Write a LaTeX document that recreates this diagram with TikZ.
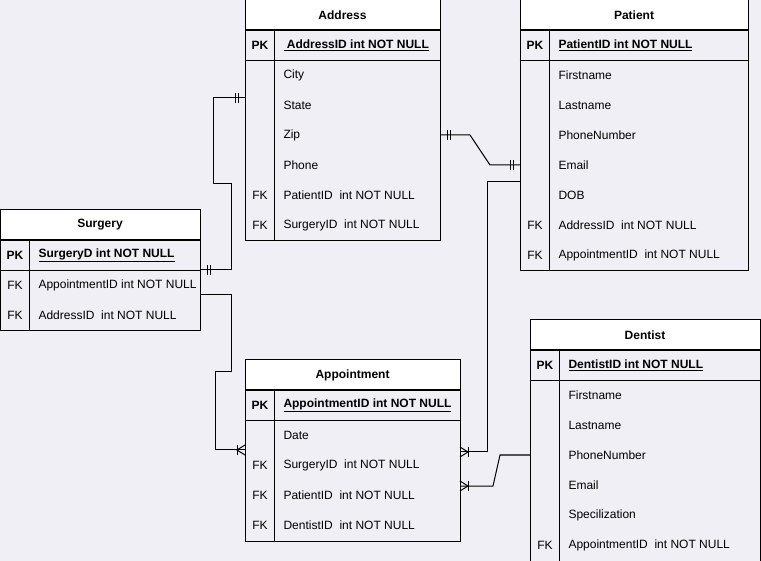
\documentclass[tikz,border=0pt]{standalone}
\usepackage{fontspec}
\setmainfont{Liberation Sans}
\usepackage{tikz}
\usetikzlibrary{positioning}

\definecolor{erbg}{RGB}{240,239,245}

\tikzset{
	tabhead/.style={draw, fill=white, minimum height=30pt, inner sep=0pt, font=\fontsize{12}{14}\selectfont\bfseries},
	tabbody/.style={draw, fill=erbg, inner sep=0pt, anchor=north},
	keylbl/.style={draw=none, fill=none, inner sep=0pt, font=\fontsize{12}{14}\selectfont},
	pklbl/.style={keylbl, font=\fontsize{12}{14}\selectfont\bfseries},
	field/.style={draw=none, fill=none, inner sep=0pt, anchor=west, font=\fontsize{12}{14}\selectfont},
	keyfield/.style={field, font=\fontsize{12}{14}\selectfont\bfseries},
	onebar/.pic={\draw (7,-5) -- (7,5); \draw (10,-5) -- (10,5);},
	many/.pic={\draw (0,-5) -- (8,0) -- (0,5); \draw (8,-5) -- (8,5);},
}

\begin{document}
\begin{tikzpicture}[x=1pt, y=-1pt, line width=1pt]

	\useasboundingbox (0,0) rectangle (761,561);
	\fill[erbg] (0,0) rectangle (761,561);

	% Address
	\node[tabhead, minimum width=195pt] (address) at (342.5, 15) {Address};
	\node[tabbody, minimum width=195pt, minimum height=210pt, below=0pt of address] (addressbody) {};
	\draw ([yshift=-30pt]addressbody.north west) -- ([yshift=-30pt]addressbody.north east);
	\draw ([xshift=30pt]addressbody.north west) -- ([xshift=30pt]addressbody.south west);
	\node[pklbl] (addresspk) at (260, 45) {PK};
	\node[keyfield] (addressid) at (283, 45) {\underline{\ AddressID int NOT NULL}};
	\node[field] (addresscity) at (283, 75) {City};
	\node[field] (addressstate) at (283, 105) {State};
	\node[field] (addresszip) at (283, 135) {Zip};
	\node[field] (addressphone) at (283, 165) {Phone};
	\node[keylbl] (addressfk1) at (260, 195) {FK};
	\node[field] (addresspat) at (283, 195) {PatientID\ \ int NOT NULL};
	\node[keylbl] (addressfk2) at (260, 225) {FK};
	\node[field] (addresssurg) at (283, 225) {SurgeryID\ \ int NOT NULL};

	% Patient
	\node[tabhead, minimum width=228pt] (patient) at (634, 15) {Patient};
	\node[tabbody, minimum width=228pt, minimum height=240pt, below=0pt of patient] (patientbody) {};
	\draw ([yshift=-30pt]patientbody.north west) -- ([yshift=-30pt]patientbody.north east);
	\draw ([xshift=30pt]patientbody.north west) -- ([xshift=30pt]patientbody.south west);
	\node[pklbl] (patientpk) at (535, 45) {PK};
	\node[keyfield] (patientid) at (558, 45) {\underline{PatientID int NOT NULL}};
	\node[field] (patientfirst) at (558, 75) {Firstname};
	\node[field] (patientlast) at (558, 105) {Lastname};
	\node[field] (patientphone) at (558, 135) {PhoneNumber};
	\node[field] (patientemail) at (558, 165) {Email};
	\node[field] (patientdob) at (558, 195) {DOB};
	\node[keylbl] (patientfk1) at (535, 225) {FK};
	\node[field] (patientaddr) at (558, 225) {AddressID\ \ int NOT NULL};
	\node[keylbl] (patientfk2) at (535, 255) {FK};
	\node[field] (patientappt) at (558, 255) {AppointmentID\ \ int NOT NULL};

	% Surgery
	\node[tabhead, minimum width=200pt] (surgery) at (100, 225) {Surgery};
	\node[tabbody, minimum width=200pt, minimum height=90pt, below=0pt of surgery] (surgerybody) {};
	\draw ([yshift=-30pt]surgerybody.north west) -- ([yshift=-30pt]surgerybody.north east);
	\draw ([xshift=30pt]surgerybody.north west) -- ([xshift=30pt]surgerybody.south west);
	\node[pklbl] (surgerypk) at (15, 255) {PK};
	\node[keyfield] (surgeryid) at (38, 255) {\underline{SurgeryD int NOT NULL}};
	\node[keylbl] (surgeryfk1) at (15, 285) {FK};
	\node[field] (surgeryappt) at (38, 285) {AppointmentID int NOT NULL};
	\node[keylbl] (surgeryfk2) at (15, 315) {FK};
	\node[field] (surgeryaddr) at (38, 315) {AddressID\ \ int NOT NULL};

	% Appointment
	\node[tabhead, minimum width=215pt] (appt) at (352.5, 375) {Appointment};
	\node[tabbody, minimum width=215pt, minimum height=150pt, below=0pt of appt] (apptbody) {};
	\draw ([yshift=-30pt]apptbody.north west) -- ([yshift=-30pt]apptbody.north east);
	\draw ([xshift=30pt]apptbody.north west) -- ([xshift=30pt]apptbody.south west);
	\node[pklbl] (apptpk) at (260, 405) {PK};
	\node[keyfield] (apptid) at (283, 405) {\underline{AppointmentID int NOT NULL}};
	\node[field] (apptdate) at (283, 435) {Date};
	\node[keylbl] (apptfk1) at (260, 465) {FK};
	\node[field] (apptsurg) at (283, 465) {SurgeryID\ \ int NOT NULL};
	\node[keylbl] (apptfk2) at (260, 495) {FK};
	\node[field] (apptpat) at (283, 495) {PatientID\ \ int NOT NULL};
	\node[keylbl] (apptfk3) at (260, 525) {FK};
	\node[field] (apptdent) at (283, 525) {DentistID\ \ int NOT NULL};

	% Dentist
	\node[tabhead, minimum width=230pt] (dentist) at (645, 335) {Dentist};
	\node[tabbody, minimum width=230pt, minimum height=210pt, below=0pt of dentist] (dentistbody) {};
	\draw ([yshift=-30pt]dentistbody.north west) -- ([yshift=-30pt]dentistbody.north east);
	\draw ([xshift=30pt]dentistbody.north west) -- ([xshift=30pt]dentistbody.south west);
	\node[pklbl] (dentistpk) at (545, 365) {PK};
	\node[keyfield] (dentistid) at (568, 365) {\underline{DentistID int NOT NULL}};
	\node[field] (dentistfirst) at (568, 395) {Firstname};
	\node[field] (dentistlast) at (568, 425) {Lastname};
	\node[field] (dentistphone) at (568, 455) {PhoneNumber};
	\node[field] (dentistemail) at (568, 485) {Email};
	\node[field] (dentistspec) at (568, 515) {Specilization};
	\node[keylbl] (dentistfk) at (545, 545) {FK};
	\node[field] (dentistappt) at (568, 545) {AppointmentID\ \ int NOT NULL};

	% connector ends
	\coordinate (addrL) at (245, 98);
	\coordinate (addrR) at (440, 135);
	\coordinate (patL1) at (520, 165);
	\coordinate (patL2) at (520, 182);
	\coordinate (surgR1) at (200, 270);
	\coordinate (surgR2) at (200, 295);
	\coordinate (apptL) at (245, 450);
	\coordinate (apptR1) at (460, 452);
	\coordinate (apptR2) at (460, 486);
	\coordinate (dentL) at (530, 455);

	% relations
	\draw (addrL) -- ++(-32, 0) -- ++(0, 86) -- ++(18, 0) |- (surgR1);
	\draw (addrR) -- ++(30, 0) -- ++(20, 30) -- (patL1);
	\draw (surgR2) -- ++(31, 0) -- ++(0, 77) -- ++(-16, 0) |- (apptL);
	\draw (patL2) -- ++(-33, 0) |- (apptR1);
	\draw (dentL) -- ++(-30, 0) -- ++(-7, 31) -- (apptR2);

	\pic[rotate=180] at (addrL) {onebar};
	\pic at (surgR1) {onebar};
	\pic at (addrR) {onebar};
	\pic[rotate=180] at (patL1) {onebar};
	\pic[rotate=180] at (apptL) {many};
	\pic at (apptR1) {many};
	\pic at (apptR2) {many};

\end{tikzpicture}
\end{document}
